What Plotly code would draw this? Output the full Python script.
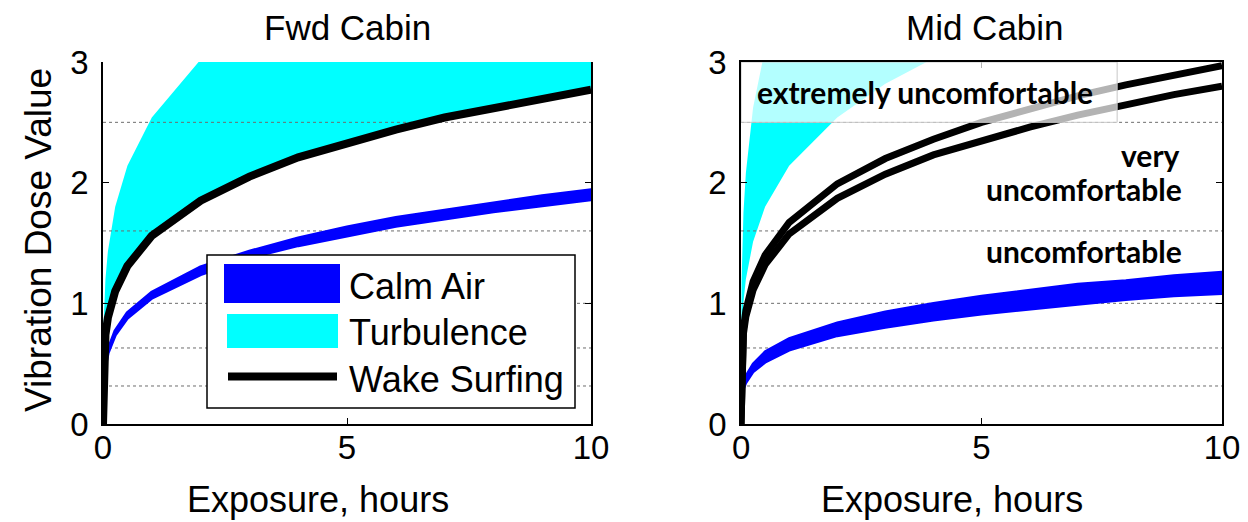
import plotly.graph_objects as go

# ---------------- data ----------------
hours = [0, 0.01, 0.05, 0.1, 0.25, 0.5, 1, 2, 3, 4, 5, 6, 7, 8, 9, 10]

# Fwd Cabin
fwd_wake = [0, 0.49, 0.74, 0.88, 1.10, 1.31, 1.56, 1.85, 2.05, 2.21, 2.33, 2.44, 2.54, 2.62, 2.70, 2.77]
fwd_turb_lo = [0, 0.49, 0.74, 0.88, 1.10, 1.31, 1.56, 1.85, 2.05, 2.21, 2.33, 2.44, 2.54, 2.62, 2.70, 2.77]
fwd_turb_hi = [0, 0.80, 1.20, 1.43, 1.80, 2.14, 2.54, 3.02, 3.34, 3.59, 3.80, 3.98, 4.13, 4.27, 4.40, 4.52]
fwd_calm_lo = [0, 0.33, 0.49, 0.59, 0.74, 0.88, 1.045, 1.24, 1.38, 1.48, 1.56, 1.64, 1.70, 1.76, 1.81, 1.86]
fwd_calm_hi = [0, 0.34, 0.52, 0.61, 0.77, 0.92, 1.09, 1.30, 1.43, 1.54, 1.63, 1.71, 1.77, 1.83, 1.89, 1.94]

# Mid Cabin
mid_wake_a = [0, 0.53, 0.79, 0.94, 1.18, 1.40, 1.67, 1.99, 2.20, 2.36, 2.50, 2.61, 2.72, 2.81, 2.89, 2.97]
mid_wake_b = [0, 0.50, 0.75, 0.89, 1.11, 1.32, 1.575, 1.87, 2.07, 2.23, 2.35, 2.46, 2.56, 2.65, 2.73, 2.80]
mid_turb_lo = [0, 0.68, 1.01, 1.20, 1.51, 1.80, 2.14, 2.54, 2.82, 3.03, 3.20, 3.35, 3.48, 3.60, 3.71, 3.80]
mid_turb_hi = [0, 1.17, 1.75, 2.08, 2.62, 3.11, 3.70, 4.40, 4.87, 5.23, 5.53, 5.79, 6.02, 6.22, 6.41, 6.58]
mid_calm_lo = [0, 0.19, 0.29, 0.34, 0.43, 0.51, 0.61, 0.73, 0.80, 0.86, 0.91, 0.95, 0.99, 1.03, 1.06, 1.08]
mid_calm_hi = [0, 0.22, 0.34, 0.40, 0.50, 0.60, 0.71, 0.84, 0.93, 1.00, 1.06, 1.11, 1.16, 1.19, 1.23, 1.26]

# ISO 2631 comfort thresholds (dotted reference lines)
comfort_levels = [0.315, 0.63, 1.0, 1.6, 2.5]

panel_titles = ["Fwd Cabin", "Mid Cabin"]
x_ticks = [0, 5, 10]
y_ticks = [0, 1, 2, 3]

CYAN = "#00FFFF"
BLUE = "#0000FF"
SANS = "Liberation Sans, Arial, Helvetica, sans-serif"
BOLD = "Lato, Noto Sans, sans-serif"

fig = go.Figure()


def band(lo, hi, color, xa, ya, edge=0):
    fig.add_trace(go.Scatter(
        x=hours + hours[::-1], y=hi + lo[::-1], fill="toself", fillcolor=color,
        mode="lines", line=dict(color=color, width=edge), xaxis=xa, yaxis=ya,
        hoverinfo="skip", showlegend=False))


def grid(xa, ya):
    for lev in comfort_levels:
        fig.add_trace(go.Scatter(
            x=[x_ticks[0], x_ticks[-1]], y=[lev, lev], mode="lines",
            line=dict(color="#6e6e6e", width=1, dash="dot"),
            xaxis=xa, yaxis=ya, hoverinfo="skip", showlegend=False))


def line(vals, xa, ya, width):
    fig.add_trace(go.Scatter(
        x=hours, y=vals, mode="lines", line=dict(color="black", width=width),
        xaxis=xa, yaxis=ya, showlegend=False))


# Left panel
band(fwd_turb_lo, fwd_turb_hi, CYAN, "x", "y")
grid("x", "y")
band(fwd_calm_lo, fwd_calm_hi, BLUE, "x", "y", edge=3.5)
line(fwd_wake, "x", "y", 8)

# Right panel
band(mid_turb_lo, mid_turb_hi, CYAN, "x2", "y2")
grid("x2", "y2")
band(mid_calm_lo, mid_calm_hi, BLUE, "x2", "y2", edge=2.5)
line(mid_wake_a, "x2", "y2", 7)
line(mid_wake_b, "x2", "y2", 7)

axis_common = dict(
    showgrid=False, zeroline=False, showline=True, linecolor="black", linewidth=1.5,
    ticks="inside", ticklen=6, tickwidth=1, tickcolor="black",
    tickfont=dict(family=SANS, size=33, color="black"),
)

fig.update_layout(
    width=1248, height=522,
    margin=dict(l=95, r=34, t=54, b=106),
    paper_bgcolor="white", plot_bgcolor="white",
    showlegend=False,
    xaxis=dict(domain=[0, 0.4361], range=[0, 10], tickvals=x_ticks, mirror=False,
               anchor="y", ticklabelstandoff=-6, **axis_common),
    yaxis=dict(domain=[0, 1], range=[0, 3], tickvals=y_ticks, mirror="ticks",
               anchor="x", ticklabelstandoff=6, **axis_common),
    xaxis2=dict(domain=[0.5702, 1], range=[0, 10], tickvals=x_ticks, mirror="ticks",
                anchor="y2", ticklabelstandoff=-6, **axis_common),
    yaxis2=dict(domain=[0, 1], range=[0, 3], tickvals=y_ticks, mirror="ticks",
                anchor="x2", ticklabelstandoff=6, **axis_common),
)


def px(xp):
    return (xp - 103) / 1119


def py(yp):
    return (424 - yp) / 362


annotations = []
shapes = []

# Titles and axis labels
for title, cx, lx in zip(panel_titles, [347, 985], [318, 952]):
    annotations.append(dict(text=title, x=px(cx), y=py(28), xref="paper", yref="paper",
                            showarrow=False, borderpad=0,
                            font=dict(family=SANS, size=35, color="black"),
                            xanchor="center", yanchor="middle"))
    annotations.append(dict(text="Exposure, hours", x=px(lx), y=py(499), xref="paper",
                            yref="paper", showarrow=False,
                            font=dict(family=SANS, size=36, color="black"),
                            xanchor="center", yanchor="middle"))
annotations.append(dict(text="Vibration Dose Value", x=px(38), y=py(240), xref="paper",
                        yref="paper", showarrow=False, textangle=-90,
                        font=dict(family=SANS, size=37, color="black"),
                        xanchor="center", yanchor="middle"))

# Custom legend in left panel
shapes.append(dict(type="rect", xref="paper", yref="paper", x0=px(207), x1=px(575),
                   y0=py(408), y1=py(255), fillcolor="white",
                   line=dict(color="black", width=1.5), layer="above"))
shapes.append(dict(type="rect", xref="paper", yref="paper", x0=px(226), x1=px(338),
                   y0=py(301), y1=py(266), fillcolor=BLUE,
                   line=dict(color=BLUE, width=4), layer="above"))
shapes.append(dict(type="rect", xref="paper", yref="paper", x0=px(227), x1=px(338),
                   y0=py(348), y1=py(314), fillcolor=CYAN,
                   line=dict(color=CYAN, width=0), layer="above"))
shapes.append(dict(type="line", xref="paper", yref="paper", x0=px(228), x1=px(337),
                   y0=py(376.5), y1=py(376.5), line=dict(color="black", width=8),
                   layer="above"))
for txt, yy in [("Calm Air", 286), ("Turbulence", 333), ("Wake Surfing", 379)]:
    annotations.append(dict(text=txt, x=px(347), y=py(yy), xref="paper", yref="paper",
                            showarrow=False, font=dict(family=SANS, size=36, color="black"),
                            xanchor="left", yanchor="middle"))

# Comfort zone box and labels in right panel
shapes.append(dict(type="rect", xref="x2", yref="y2", x0=0, x1=7.82, y0=2.5, y1=3.0,
                   fillcolor="rgba(255,255,255,0.7)", line=dict(color="#c8c8c8", width=1),
                   layer="above"))
zone_font = dict(family=BOLD, size=30, color="black")
annotations.append(dict(text="<b>extremely uncomfortable</b>", x=3.83, y=2.75, xref="x2",
                        yref="y2", showarrow=False, font=zone_font,
                        xanchor="center", yanchor="middle"))
annotations.append(dict(text="<b>very</b>", x=9.17, y=2.23, xref="x2", yref="y2",
                        showarrow=False, font=zone_font, xanchor="right", yanchor="middle"))
annotations.append(dict(text="<b>uncomfortable</b>", x=9.2, y=1.95, xref="x2", yref="y2",
                        showarrow=False, font=zone_font, xanchor="right", yanchor="middle"))
annotations.append(dict(text="<b>uncomfortable</b>", x=9.2, y=1.43, xref="x2", yref="y2",
                        showarrow=False, font=zone_font, xanchor="right", yanchor="middle"))

fig.update_layout(annotations=annotations, shapes=shapes)

fig.write_html("out.html")
